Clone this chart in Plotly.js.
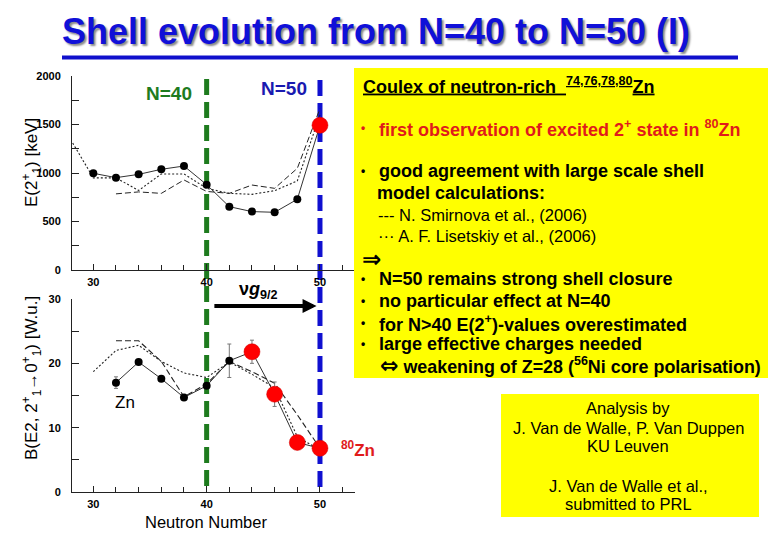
<!DOCTYPE html>
<html>
<head>
<meta charset="utf-8">
<script src="https://cdn.plot.ly/plotly-3.0.1.min.js"></script>
<style>html,body{margin:0;padding:0;background:#fff;}#chart{width:780px;height:540px;}</style>
</head>
<body>
<div id="chart"></div>
<script>
// ---------- data ----------
// E(2+1) [keV], Zn isotopes
const E2_N_prev = [30, 32, 34, 36, 38, 40, 42, 44, 46, 48];
const E2_prev   = [997, 952, 986, 1038, 1072, 880, 653, 602, 595, 729];
const E2_N_new  = [50];
const E2_new    = [1492];
// shell model calculations (E2+)
const E2_N_smirnova = [32, 34, 36, 38, 40, 42, 44, 46, 48, 50];
const E2_smirnova   = [785, 805, 790, 928, 810, 790, 876, 842, 1048, 1665];
const E2_N_lisetskiy = [28, 30, 32, 34, 36, 38, 40, 42, 44, 46, 48, 50];
const E2_lisetskiy   = [1345, 950, 950, 820, 990, 990, 842, 790, 780, 818, 918, 1600];

// B(E2; 2+1 -> 0+1) [W.u.]
const B_N_prev   = [32, 34, 36, 38, 40, 42];
const B_prev     = [17.0, 20.2, 17.6, 14.7, 16.5, 20.4];
const B_err_prev = [0.9, 0.3, 0.3, 0.3, 0.4, 2.6];
const B_N_new    = [44, 46, 48, 50];
const B_new      = [21.8, 15.2, 7.7, 6.8];
const B_err_new  = [1.8, 1.9, 1.0, 0.5];
const B_N_smirnova = [32, 34, 36, 38, 40, 42, 44, 46, 48, 50];
const B_smirnova   = [23.5, 23.5, 20.3, 14.8, 16.8, 20.3, 18.7, 16.9, 12.0, 6.8];
const B_N_lisetskiy = [30, 32, 34, 36, 38, 40, 42, 44, 46, 48, 50];
const B_lisetskiy   = [18.7, 22.0, 22.8, 20.3, 18.5, 17.8, 20.2, 18.3, 16.2, 8.6, 6.5];

// tick values
const xTicks = [30, 40, 50];
const E2Ticks = [0, 500, 1000, 1500, 2000];
const BTicks = [0, 10, 20, 30];

// ---------- helpers ----------
const W = 780, H = 540;
const FONT = 'Liberation Sans, Arial, sans-serif';
const px = v => v / W;
const py = v => 1 - v / H;

const thin = '#222';
const traces = [
  {x: E2_N_smirnova, y: E2_smirnova, xaxis: 'x', yaxis: 'y', mode: 'lines',
   line: {color: thin, width: 1, dash: '6px,3px'}},
  {x: E2_N_lisetskiy, y: E2_lisetskiy, xaxis: 'x', yaxis: 'y', mode: 'lines',
   line: {color: thin, width: 1.1, dash: '2px,2px'}},
  {x: E2_N_prev.concat(E2_N_new), y: E2_prev.concat(E2_new), xaxis: 'x', yaxis: 'y', mode: 'lines',
   line: {color: '#333', width: 1}},
  {x: E2_N_prev, y: E2_prev, xaxis: 'x', yaxis: 'y', mode: 'markers',
   marker: {color: '#000', size: 8}},
  {x: E2_N_new, y: E2_new, xaxis: 'x', yaxis: 'y', mode: 'markers',
   marker: {color: '#ff0000', size: 16, line: {color: '#d00000', width: 0.5}}},

  {x: B_N_smirnova, y: B_smirnova, xaxis: 'x2', yaxis: 'y2', mode: 'lines',
   line: {color: thin, width: 1.1, dash: '6px,3px'}},
  {x: B_N_lisetskiy, y: B_lisetskiy, xaxis: 'x2', yaxis: 'y2', mode: 'lines',
   line: {color: thin, width: 1.1, dash: '2px,2px'}},
  {x: B_N_prev.concat(B_N_new), y: B_prev.concat(B_new), xaxis: 'x2', yaxis: 'y2', mode: 'lines',
   line: {color: '#333', width: 1}},
  {x: B_N_prev, y: B_prev, xaxis: 'x2', yaxis: 'y2', mode: 'markers',
   marker: {color: '#000', size: 8},
   error_y: {type: 'data', array: B_err_prev, color: '#777', thickness: 1, width: 2}},
  {x: B_N_new, y: B_new, xaxis: 'x2', yaxis: 'y2', mode: 'markers',
   marker: {color: '#ff0000', size: 16, line: {color: '#d00000', width: 0.5}},
   error_y: {type: 'data', array: B_err_new, color: '#777', thickness: 1, width: 2}}
];

const tickFont = {family: FONT, size: 11, color: '#000', weight: 'bold'};
function xAx(anchor) {
  return {
    domain: [px(72), px(355)], range: [28.12, 53.09], anchor: anchor,
    showline: true, linecolor: thin, linewidth: 1, mirror: false,
    ticks: 'inside', ticklen: 6, tickcolor: thin, tickwidth: 1,
    tickvals: xTicks, ticktext: xTicks.map(String),
    minor: {dtick: 2, tick0: 30, ticks: 'inside', ticklen: 5, tickcolor: thin},
    showgrid: false, zeroline: false, tickfont: tickFont, ticklabelstandoff: 2
  };
}
function yAx(anchor, domain, range, ticks, minorStep) {
  return {
    domain: domain, range: range, anchor: anchor,
    showline: true, linecolor: thin, linewidth: 1,
    ticks: 'inside', ticklen: 7, tickcolor: thin, tickwidth: 1,
    tickvals: ticks, ticktext: ticks.map(String),
    minor: {dtick: minorStep, tick0: 0, ticks: 'inside', ticklen: 7, tickcolor: thin},
    showgrid: false, zeroline: false, tickfont: tickFont, ticklabelstandoff: 8
  };
}

function txt(text, x, y, opts) {
  const o = Object.assign({size: 18, color: '#000', weight: 'bold', xanchor: 'left'}, opts || {});
  const a = {
    text: text, xref: 'paper', yref: 'paper', x: px(x), y: py(y),
    xanchor: o.xanchor, yanchor: 'middle', showarrow: false,
    font: {family: FONT, size: o.size, color: o.color, weight: o.weight}
  };
  if (o.angle !== undefined) a.textangle = o.angle;
  return a;
}

const red = '#e01b1b';
const bullet = (y, color) => txt('•', 362.5, y, {xanchor: 'center', size: 12, color: color || '#000'});
const annotations = [
  // panel labels
  txt('N=40', 169, 94, {size: 19, color: '#1e7b1e', xanchor: 'center'}),
  txt('N=50', 284, 88, {size: 19, color: '#1a1ab0', xanchor: 'center'}),
  txt('ν<i>g</i><sub>9/2</sub>', 258, 290, {size: 18, xanchor: 'center'}),
  txt('Zn', 125, 402, {size: 17, weight: 'normal', xanchor: 'center'}),
  txt('<sup>80</sup>Zn', 339, 449, {size: 17, color: red}),
  txt('Neutron Number', 205.5, 522, {size: 16.5, weight: 'normal', xanchor: 'center'}),
  txt('E(2<sup>+</sup><sub>1</sub>) [keV]', 31, 162, {size: 17, weight: 'normal', xanchor: 'center', angle: -90}),
  txt('B(E2, 2<sup>+</sup><sub>1</sub>→0<sup>+</sup><sub>1</sub>) [W.u.]', 31, 378, {size: 17, weight: 'normal', xanchor: 'center', angle: -90}),
  // arrow
  {xref: 'x2', yref: 'y2', axref: 'x2', ayref: 'y2', x: 49.7, y: 28.93, ax: 40.55, ay: 28.93,
   text: '', showarrow: true, arrowhead: 2, arrowsize: 0.7, arrowwidth: 4, arrowcolor: '#000'},
  // yellow box 1
  txt('<u>Coulex of neutron-rich  <sup>74,76,78,80</sup>Zn</u>', 361, 85),
  bullet(128, red),
  txt('first observation of excited 2<sup>+</sup> state in <sup>80</sup>Zn', 377, 128, {color: red}),
  bullet(171),
  txt('good agreement with large scale shell', 377, 171),
  txt('model calculations:', 375, 193),
  txt('--- N. Smirnova et al., (2006)', 376, 215, {size: 16.5, weight: 'normal'}),
  txt('··· A. F. Lisetskiy et al., (2006)', 376, 236, {size: 16.5, weight: 'normal'}),
  txt('<span style="font-family:DejaVu Sans;font-size:23px">⇒</span>', 360, 259),
  bullet(279),
  txt('N=50 remains strong shell closure', 377, 279),
  bullet(301),
  txt('no particular effect at N=40', 377, 301),
  bullet(323),
  txt('for N>40 E(2<sup>+</sup>)-values overestimated', 377, 323),
  bullet(344),
  txt('large effective charges needed', 377, 344),
  txt('<span style="font-family:DejaVu Sans;font-size:22px">⇔</span> weakening of Z=28 (<sup>56</sup>Ni core polarisation)', 378, 365, {size: 17.9}),
  // yellow box 2
  txt('Analysis by', 628, 408, {size: 16.5, weight: 'normal', xanchor: 'center'}),
  txt('J. Van de Walle, P. Van Duppen', 628, 428, {size: 16.5, weight: 'normal', xanchor: 'center'}),
  txt('KU Leuven', 628, 446, {size: 16.5, weight: 'normal', xanchor: 'center'}),
  txt('J. Van de Walle et al.,', 628, 486, {size: 16.5, weight: 'normal', xanchor: 'center'}),
  txt('submitted to PRL', 628, 504, {size: 16.5, weight: 'normal', xanchor: 'center'})
];

const shapes = [
  // title underline
  {type: 'rect', xref: 'paper', yref: 'paper', x0: px(62), x1: px(738), y0: py(59.5), y1: py(55.5),
   fillcolor: '#1010cc', line: {width: 0}, layer: 'above'},
  // shell closures
  {type: 'line', xref: 'x', yref: 'paper', x0: 40, x1: 40, y0: py(486), y1: py(75),
   line: {color: '#1e7b1e', width: 5, dash: '16px,7px'}, layer: 'below'},
  {type: 'line', xref: 'x', yref: 'paper', x0: 50, x1: 50, y0: py(487), y1: py(75),
   line: {color: '#1010d0', width: 5, dash: '16px,7px'}, layer: 'below'},
  // yellow boxes
  {type: 'rect', xref: 'paper', yref: 'paper', x0: px(354), x1: px(768), y0: py(378), y1: py(68),
   fillcolor: '#ffff00', line: {width: 0}, layer: 'above'},
  {type: 'rect', xref: 'paper', yref: 'paper', x0: px(501), x1: px(759), y0: py(517), y1: py(394),
   fillcolor: '#ffff00', line: {width: 0}, layer: 'above'}
];

const layout = {
  width: W, height: H,
  margin: {l: 0, r: 0, t: 0, b: 0},
  paper_bgcolor: '#ffffff', plot_bgcolor: 'rgba(0,0,0,0)',
  showlegend: false,
  title: {text: 'Shell evolution from N=40 to N=50 (I)', x: px(376), xanchor: 'center',
          y: py(31), yanchor: 'middle',
          font: {family: FONT, size: 36, color: '#1010d8', weight: 'bold', shadow: '2px 2px 2px #8a8a8a'}},
  xaxis: xAx('y'),
  yaxis: yAx('x', [py(270), py(76)], [0, 2000], E2Ticks, 250),
  xaxis2: xAx('y2'),
  yaxis2: yAx('x2', [py(492), py(299)], [0, 30], BTicks, 5),
  shapes: shapes,
  annotations: annotations
};

Plotly.newPlot('chart', traces, layout, {displayModeBar: false, staticPlot: true});
</script>
</body>
</html>
